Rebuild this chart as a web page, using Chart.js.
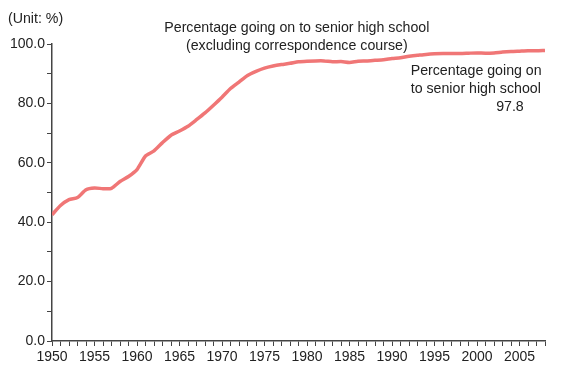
<!DOCTYPE html>
<html>
<head>
<meta charset="utf-8">
<script src="https://cdn.jsdelivr.net/npm/chart.js@4/dist/chart.umd.min.js"></script>
<style>
  html, body { margin: 0; padding: 0; background: #fff; }
  #wrap { width: 580px; height: 381px; }
</style>
</head>
<body>
<div id="wrap"><canvas id="rateChart" width="580" height="381"></canvas></div>
<script>
const years = [];
for (let y = 1950; y <= 2008; y++) years.push(y);

const rates = [
  42.5, 45.6, 47.6, 48.3, 50.9, 51.5, 51.3, 51.4, 53.7, 55.4,
  57.7, 62.3, 64.0, 66.8, 69.3, 70.7, 72.3, 74.5, 76.8, 79.4,
  82.1, 85.0, 87.2, 89.4, 90.8, 91.9, 92.6, 93.1, 93.5, 94.0,
  94.2, 94.3, 94.3, 94.0, 94.1, 93.8, 94.2, 94.3, 94.5, 94.7,
  95.1, 95.4, 95.9, 96.2, 96.5, 96.7, 96.8, 96.8, 96.8, 96.9,
  97.0, 96.9, 97.0, 97.3, 97.5, 97.6, 97.7, 97.7, 97.8
];

const yTicks = [0, 20, 40, 60, 80, 100];
const unitLabel = "(Unit: %)";
const topLabel = ["Percentage going on to senior high school", "(excluding correspondence course)"];
const endLabel = ["Percentage going on", "to senior high school"];
const endValue = "97.8";

const FONT = "'Liberation Sans', Arial, sans-serif";
const TEXT = "#222";
const AXIS = "#444";

const labelsPlugin = {
  id: "labels",
  afterDraw(chart) {
    const ctx = chart.ctx;
    const x = chart.scales.x;
    ctx.save();
    ctx.fillStyle = TEXT;
    ctx.font = "14.2px " + FONT;
    ctx.textBaseline = "middle";

    ctx.textAlign = "left";
    ctx.fillText(unitLabel, 8, 19);

    ctx.textAlign = "center";
    const cx = x.getPixelForValue(1978.8);
    ctx.fillText(topLabel[0], cx, 28);
    ctx.fillText(topLabel[1], cx, 46);

    ctx.textAlign = "left";
    const lx = x.getPixelForValue(1992.2);
    ctx.fillText(endLabel[0], lx, 71);
    ctx.fillText(endLabel[1], lx, 89);
    ctx.textAlign = "right";
    ctx.fillText(endValue, x.getPixelForValue(2005.5), 107);
    ctx.restore();
  }
};

new Chart(document.getElementById("rateChart"), {
  type: "line",
  data: {
    datasets: [{
      data: years.map((y, i) => ({ x: y, y: rates[i] })),
      borderColor: "rgb(240, 118, 118)",
      borderWidth: 3.5,
      pointRadius: 0,
      tension: 0.2,
      fill: false
    }]
  },
  options: {
    responsive: false,
    animation: false,
    layout: { padding: { top: 44, right: 35, left: 0, bottom: 0 } },
    plugins: {
      legend: { display: false },
      tooltip: { enabled: false }
    },
    scales: {
      x: {
        type: "linear",
        min: 1950,
        max: 2008,
        afterFit: s => { s.height = 40; },
        ticks: {
          stepSize: 1,
          autoSkip: false,
          maxRotation: 0,
          padding: 3,
          color: TEXT,
          font: { family: FONT, size: 14 },
          callback: v => (v % 5 === 0 ? String(v) : "")
        },
        grid: { drawOnChartArea: false, drawTicks: true, tickLength: 5, color: AXIS },
        border: { color: AXIS, width: 1.5 }
      },
      y: {
        min: 0,
        max: 100,
        afterFit: s => { s.width = 52; },
        ticks: {
          stepSize: 10,
          padding: 2,
          color: TEXT,
          font: { family: FONT, size: 14 },
          callback: v => (yTicks.includes(v) ? v.toFixed(1) : "")
        },
        grid: { drawOnChartArea: false, drawTicks: true, tickLength: 5, color: AXIS },
        border: { color: AXIS, width: 1.5 }
      }
    }
  },
  plugins: [labelsPlugin]
});
</script>
</body>
</html>
